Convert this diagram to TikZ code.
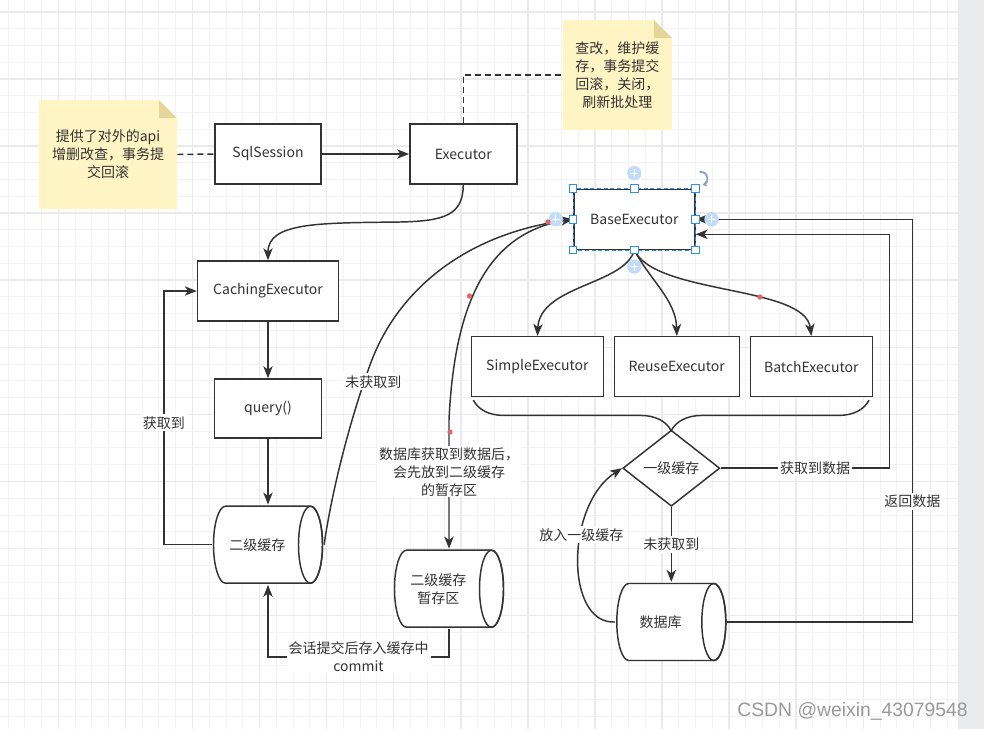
\documentclass[tikz,border=0pt]{standalone}
\usepackage{fontspec}
\setmainfont{Noto Sans CJK SC}
\newfontfamily\wmfont{Liberation Sans}
\usetikzlibrary{arrows.meta,shapes.geometric,decorations.pathreplacing}
\definecolor{linec}{HTML}{333333}
\definecolor{notefill}{HTML}{FFF4C4}
\definecolor{earfill}{HTML}{E5D59A}
\definecolor{selc}{HTML}{2F8EF0}
\definecolor{plusc}{HTML}{C3DCFA}
\definecolor{redc}{HTML}{E06666}
\definecolor{rotc}{HTML}{8FA3BF}
\definecolor{stripc}{HTML}{E9EAEC}
\definecolor{gridmin}{HTML}{F3F3F3}
\definecolor{gridmaj}{HTML}{EAEAEA}

\tikzset{
  plusmark/.pic={
    \fill[plusc] (0,0) circle[radius=5.4pt];
    \draw[white,line width=0.7pt] (-3pt,0) -- (3pt,0) (0,-3pt) -- (0,3pt);
  }
}

\begin{document}
\begin{tikzpicture}[x=0.75pt,y=-0.75pt,
  font=\fontsize{10.5}{13.5}\selectfont, text=linec,
  line/.style={draw=linec,line width=1.1pt},
  arr/.style={line,-{Stealth[length=9pt,width=7pt,inset=2.5pt]}},
  dline/.style={line,dash pattern=on 4.5pt off 3pt},
  box/.style={line,fill=white,minimum height=45pt,inner sep=2pt},
  lbl/.style={fill=white,inner sep=1.5pt},
  note/.style={align=center,inner sep=0pt,
    path picture={
      \fill[notefill] (path picture bounding box.south west) -- (path picture bounding box.north west)
        -- ([xshift=-13.5pt]path picture bounding box.north east)
        -- ([yshift=-13.5pt]path picture bounding box.north east)
        -- (path picture bounding box.south east) -- cycle;
      \fill[earfill] ([xshift=-13.5pt]path picture bounding box.north east)
        -- ([xshift=-13.5pt,yshift=-13.5pt]path picture bounding box.north east)
        -- ([yshift=-13.5pt]path picture bounding box.north east) -- cycle;
    }},
  cyl/.style={minimum width=83.75pt,minimum height=59.75pt,inner sep=0pt,
    path picture={
      \draw[line,fill=white] ([xshift=10pt,yshift=-1pt]path picture bounding box.north west)
        -- ([xshift=-10pt,yshift=-1pt]path picture bounding box.north east)
        arc[start angle=90,end angle=-90,x radius=9pt,y radius=28.875pt]
        -- ([xshift=10pt,yshift=1pt]path picture bounding box.south west)
        arc[start angle=270,end angle=90,x radius=9pt,y radius=28.875pt] -- cycle;
      \draw[line] ([xshift=-10pt]path picture bounding box.east) ellipse[x radius=9pt,y radius=28.875pt];
    }},
  dia/.style={diamond,line,fill=white,minimum width=72.75pt,minimum height=57pt,inner sep=0pt,aspect=1.3}
]
\useasboundingbox (0,0) rectangle (984,729);

% grid
\foreach \i in {0,...,56} \draw[gridmin,line width=0.75pt] ({8+16.77*\i},0) -- ({8+16.77*\i},729);
\foreach \j in {0,...,44} \draw[gridmin,line width=0.75pt] (0,{-4.87+16.77*\j}) -- (958,{-4.87+16.77*\j});
\foreach \i in {0,...,13} \draw[gridmaj,line width=1.1pt] ({58.3+67.08*\i},0) -- ({58.3+67.08*\i},729);
\foreach \j in {0,...,10} \draw[gridmaj,line width=1.1pt] (0,{11.9+67.08*\j}) -- (958,{11.9+67.08*\j});
\fill[stripc] (958,0) rectangle (984,729);

% notes
\node[note,minimum width=103.5pt,minimum height=81.75pt] (note1) at (108,154.5) {提供了对外的api\\增删改查，事务提\\交回滚};
\node[note,minimum width=81.75pt,minimum height=82.5pt] (note2) at (617.3,75) {查改，维护缓\\存，事务提交\\回滚，关闭，\\刷新批处理};

% executors
\node[box,minimum width=79.5pt] (sess) at (268,154) {SqlSession};
\node[box,minimum width=80.25pt] (exec) at (463.3,154) {Executor};
\node[box,minimum width=105.75pt] (cach) at (268,291) {CachingExecutor};
\node[box,minimum width=80.25pt,minimum height=44.25pt] (query) at (268,408.5) {query()};
\node[box,minimum width=90.75pt] (base) at (634.3,219.3) {BaseExecutor};
\node[box,minimum width=99pt] (simple) at (537.4,366.7) {SimpleExecutor};
\node[box,minimum width=93.75pt] (reuse) at (676.8,366.7) {ReuseExecutor};
\node[box,minimum width=91.5pt] (batch) at (811.3,366.7) {BatchExecutor};

% caches
\node[cyl,label={[name=l2t,xshift=-8pt]center:二级缓存}] (l2) at (268,544.7) {};
\node[cyl,label={[name=staget,xshift=-8pt,align=center]center:{二级缓存\\暂存区}}] (stage) at (449,588.7) {};
\node[cyl,label={[name=dbt,xshift=-8pt]center:数据库}] (db) at (671.3,622) {};
\node[dia] (l1) at (671.3,468.2) {一级缓存};

% links
\draw[dline] (note1.east) -- (sess.west);
\draw[dline] (exec.north) |- (note2.west);
\draw[arr] (sess) -- (exec);
\draw[arr] (exec.south) .. controls (463,215) and (445,221) .. (400,222) .. controls (320,223) and (268,222) .. (cach.north);
\draw[arr] (cach) -- (query);
\draw[arr] (query) -- (l2);
\draw[arr] (l2.west) -- ++(-48,0) |- node[lbl,pos=0.24] (lhit) {获取到} (cach.west);
\draw[arr] (l2.east) .. controls (332,490) and (350,420) .. node[lbl,pos=0.9,xshift=7pt] (lmiss) {未获取到} (370,365)
  .. controls (395,295) and (460,235) .. (base.west);
\draw[arr] (base.west) .. controls (495,228) and (455,290) .. (449,420)
  -- node[lbl,pos=0.4,align=center,text depth=0pt] (lstage) {数据库获取到数据后，\\会先放到二级缓存\\的暂存区} (stage.north);
\draw[arr] (stage.south) -- ++(0,28) -| node[lbl,pos=0.25,align=center] (lcommit) {会话提交后存入缓存中\\commit} (l2.south);

\draw[arr] (base.south) .. controls (625,285) and (540,285) .. (simple.north);
\draw[arr] (base.south) .. controls (650,280) and (676,300) .. (reuse.north);
\draw[arr] (base.south) .. controls (655,295) and (805,285) .. (batch.north);
\draw[line,decorate,decoration={brace,amplitude=23pt}] ([xshift=-3pt,yshift=-2pt]batch.south east) -- ([xshift=2pt,yshift=-2pt]simple.south west);

\draw[arr] (l1.east) -- node[lbl,pos=0.56] (lgot) {获取到数据} ++(169,0) |- ([yshift=-11.25pt]base.east);
\draw[arr] (l1) -- node[lbl] (lmiss2) {未获取到} (db);
\draw[arr] (db.west) .. controls (565,625) and (565,505) .. node[lbl,pos=0.62] (lput) {放入一级缓存} (l1.west);
\draw[arr] (db.east) -- ++(185,0) |- node[lbl,pos=0.15] (lret) {返回数据} (base.east);

% selection marks on BaseExecutor
\draw[selc,line width=0.8pt,dash pattern=on 3pt off 2pt] (base.north west) rectangle (base.south east);
\foreach \a in {north west,north,north east,east,south east,south,south west,west}
  \draw[selc,fill=white,line width=0.6pt] ([shift={(-2.8pt,-2.8pt)}]base.\a) rectangle ([shift={(2.8pt,2.8pt)}]base.\a);
\pic at ([xshift=-13pt]base.west) {plusmark};
\pic at ([xshift=12pt]base.east) {plusmark};
\pic at ([yshift=11.5pt]base.north) {plusmark};
\pic at ([yshift=-12.4pt]base.south) {plusmark};
\draw[rotc,line width=1.4pt,-{Stealth[length=3.5pt,width=4.5pt]}] ([shift={(3pt,12.5pt)}]base.north east) arc[start angle=100,end angle=-75,radius=5pt];

\fill[redc] (548,222) circle[radius=2pt];
\fill[redc] (469.5,296) circle[radius=2pt];
\fill[redc] (450,432) circle[radius=2pt];
\fill[redc] (760,297) circle[radius=2pt];

% watermark
\node[font=\wmfont\fontsize{14.5}{16}\selectfont,text=black!40] (wm) at (852.5,711) {CSDN @weixin\_43079548};
\end{tikzpicture}
\end{document}
